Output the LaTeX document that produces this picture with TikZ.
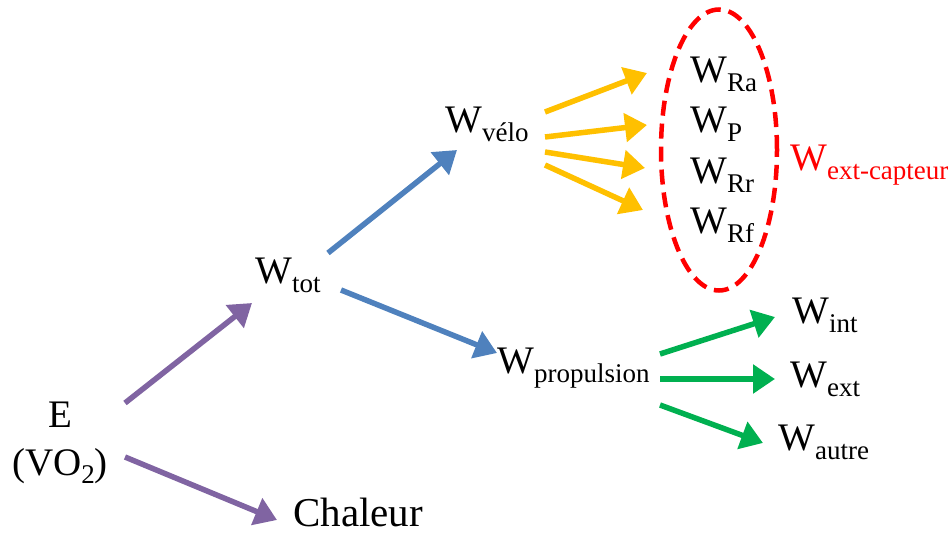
\documentclass[tikz,border=0pt]{standalone}
\usepackage{fontspec}
\setmainfont{Liberation Serif}
\usetikzlibrary{arrows.meta,shapes.geometric}
\definecolor{cpurple}{HTML}{8064A2}
\definecolor{cblue}{HTML}{4F81BD}
\definecolor{cyellow}{HTML}{FFC000}
\definecolor{cgreen}{HTML}{00B050}
\definecolor{cred}{HTML}{FF0000}
\newcommand{\Wsb}[1]{W\raisebox{-9pt}{\fontsize{27}{27}\selectfont #1}}
\begin{document}
\begin{tikzpicture}[x=1pt,y=-1pt,
  lbl/.style={anchor=base west, inner sep=0pt, font=\fontsize{39}{48}\selectfont},
  arr/.style={line width=5.5pt, -{Triangle[length=22pt,width=28pt]}},
  parr/.style={arr, cpurple},
  barr/.style={arr, cblue},
  yarr/.style={arr, cyellow},
  garr/.style={arr, cgreen},
  grp/.style={ellipse, draw=cred, line width=4.5pt, dash pattern=on 15pt off 8pt, inner sep=0pt}]
\useasboundingbox (0,0) rectangle (951,533);
% nodes
\node[inner sep=0pt, anchor=base, font=\fontsize{39}{48}\selectfont] (E) at (60,475)
  {\begin{tabular}[b]{@{}c@{}}E\\(VO\raisebox{-8pt}{\fontsize{27}{27}\selectfont 2})\end{tabular}};
\node[lbl] (Wtot) at (255,283) {\Wsb{tot}};
\node[lbl, font=\fontsize{41}{48}\selectfont] (Chal) at (293,526) {Chaleur};
\node[lbl] (Wvelo) at (445,132) {\Wsb{vélo}};
\node[lbl] (Wprop) at (497,373) {\Wsb{propulsion}};
\node[lbl] (WRa) at (690,82) {\Wsb{Ra}};
\node[lbl] (WP) at (690,132) {\Wsb{P}};
\node[lbl] (WRr) at (690,183) {\Wsb{Rr}};
\node[lbl] (WRf) at (690,233) {\Wsb{Rf}};
\node[grp, minimum width=116pt, minimum height=281pt] (grpE) at (719,150) {};
\node[lbl, text=cred] (Wcapt) at (790,170) {\Wsb{ext-capteur}};
\node[lbl] (Wint) at (792,323) {\Wsb{int}};
\node[lbl] (Wext) at (790,387) {\Wsb{ext}};
\node[lbl] (Waut) at (778,450) {\Wsb{autre}};
% connectors
\draw[parr] ([shift={(65,-72)}]E.base) -- ([shift={(-3,20)}]Wtot.base west);
\draw[parr] ([shift={(65,-18)}]E.base) -- ([shift={(-16,-6)}]Chal.base west);
\draw[barr] ([shift={(73,-30)}]Wtot.base west) -- ([shift={(12,18)}]Wvelo.base west);
\draw[barr] ([shift={(86,7)}]Wtot.base west) -- ([shift={(0,-20)}]Wprop.base west);
\draw[yarr] ([shift={(100,-20)}]Wvelo.base west) -- ([shift={(-43,-9)}]WRa.base west);
\draw[yarr] ([shift={(100,5)}]Wvelo.base west) -- ([shift={(-43,-7)}]WP.base west);
\draw[yarr] ([shift={(100,20)}]Wvelo.base west) -- ([shift={(-45,-15)}]WRr.base west);
\draw[yarr] ([shift={(100,33)}]Wvelo.base west) -- ([shift={(-47,-23)}]WRf.base west);
\draw[garr] ([shift={(163,-19)}]Wprop.base west) -- ([shift={(-17,-6)}]Wint.base west);
\draw[garr] ([shift={(163,6)}]Wprop.base west) -- ([shift={(-15,-8)}]Wext.base west);
\draw[garr] ([shift={(163,32)}]Wprop.base west) -- ([shift={(-15,-7)}]Waut.base west);
\end{tikzpicture}
\end{document}
